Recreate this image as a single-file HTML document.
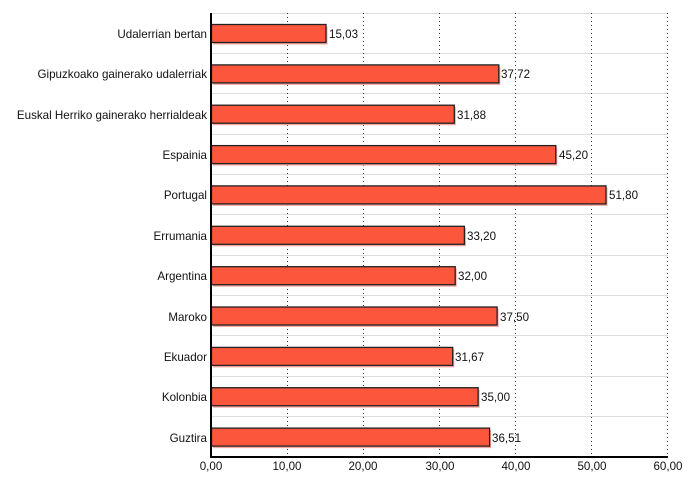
<!DOCTYPE html>
<html><head><style>body{margin:0;background:#fff}svg{display:block}text{font-family:"Liberation Sans",sans-serif;font-size:11.6px;fill:#111}</style></head>
<body>
<svg width="700" height="500" xmlns="http://www.w3.org/2000/svg">
<g stroke="#ddd" stroke-width="1">
<line x1="211" x2="668" y1="13.5" y2="13.5"/><line x1="211" x2="668" y1="53.5" y2="53.5"/><line x1="211" x2="668" y1="93.5" y2="93.5"/><line x1="211" x2="668" y1="134.5" y2="134.5"/><line x1="211" x2="668" y1="174.5" y2="174.5"/><line x1="211" x2="668" y1="214.5" y2="214.5"/><line x1="211" x2="668" y1="255.5" y2="255.5"/><line x1="211" x2="668" y1="295.5" y2="295.5"/><line x1="211" x2="668" y1="335.5" y2="335.5"/><line x1="211" x2="668" y1="376.5" y2="376.5"/><line x1="211" x2="668" y1="416.5" y2="416.5"/>
</g>
<g stroke="#333" stroke-width="1" stroke-dasharray="1,3">
<line x1="287.5" x2="287.5" y1="13" y2="457"/><line x1="363.5" x2="363.5" y1="13" y2="457"/><line x1="439.5" x2="439.5" y1="13" y2="457"/><line x1="515.5" x2="515.5" y1="13" y2="457"/><line x1="591.5" x2="591.5" y1="13" y2="457"/><line x1="667.5" x2="667.5" y1="13" y2="457"/>
</g>
<g fill="#f4a6a0">
<rect x="213" y="26.5" width="114.5" height="18"/><rect x="213" y="66.9" width="287.3" height="18"/><rect x="213" y="107.2" width="242.8" height="18"/><rect x="213" y="147.6" width="344.3" height="18"/><rect x="213" y="187.9" width="394.5" height="18"/><rect x="213" y="228.3" width="252.9" height="18"/><rect x="213" y="268.7" width="243.7" height="18"/><rect x="213" y="309" width="285.6" height="18"/><rect x="213" y="349.4" width="241.2" height="18"/><rect x="213" y="389.7" width="266.6" height="18"/><rect x="213" y="430.1" width="278.1" height="18"/>
</g>
<g fill="#fc573d" stroke="#222" stroke-width="1.3">
<rect x="211.5" y="24.5" width="114.5" height="18"/><rect x="211.5" y="64.9" width="287.3" height="18"/><rect x="211.5" y="105.2" width="242.8" height="18"/><rect x="211.5" y="145.6" width="344.3" height="18"/><rect x="211.5" y="185.9" width="394.5" height="18"/><rect x="211.5" y="226.3" width="252.9" height="18"/><rect x="211.5" y="266.7" width="243.7" height="18"/><rect x="211.5" y="307" width="285.6" height="18"/><rect x="211.5" y="347.4" width="241.2" height="18"/><rect x="211.5" y="387.7" width="266.6" height="18"/><rect x="211.5" y="428.1" width="278.1" height="18"/>
</g>
<g>
<text x="329" y="38">15,03</text><text x="501" y="78">37,72</text><text x="457" y="119">31,88</text><text x="559" y="159">45,20</text><text x="609" y="199">51,80</text><text x="467" y="240">33,20</text><text x="458" y="280">32,00</text><text x="500" y="321">37,50</text><text x="455" y="361">31,67</text><text x="481" y="401">35,00</text><text x="492" y="442">36,51</text>
</g>
<g text-anchor="end">
<text x="207" y="38">Udalerrian bertan</text><text x="207" y="78">Gipuzkoako gainerako udalerriak</text><text x="207" y="119">Euskal Herriko gainerako herrialdeak</text><text x="207" y="159">Espainia</text><text x="207" y="199">Portugal</text><text x="207" y="240">Errumania</text><text x="207" y="280">Argentina</text><text x="207" y="321">Maroko</text><text x="207" y="361">Ekuador</text><text x="207" y="401">Kolonbia</text><text x="207" y="442">Guztira</text>
</g>
<line x1="211" x2="211" y1="13" y2="458" stroke="#000" stroke-width="2"/>
<line x1="210" x2="668" y1="457" y2="457" stroke="#000" stroke-width="2"/>
<g text-anchor="middle">
<text x="211" y="470">0,00</text><text x="287" y="470">10,00</text><text x="363" y="470">20,00</text><text x="440" y="470">30,00</text><text x="516" y="470">40,00</text><text x="592" y="470">50,00</text><text x="668" y="470">60,00</text>
</g>
</svg>
</body></html>
